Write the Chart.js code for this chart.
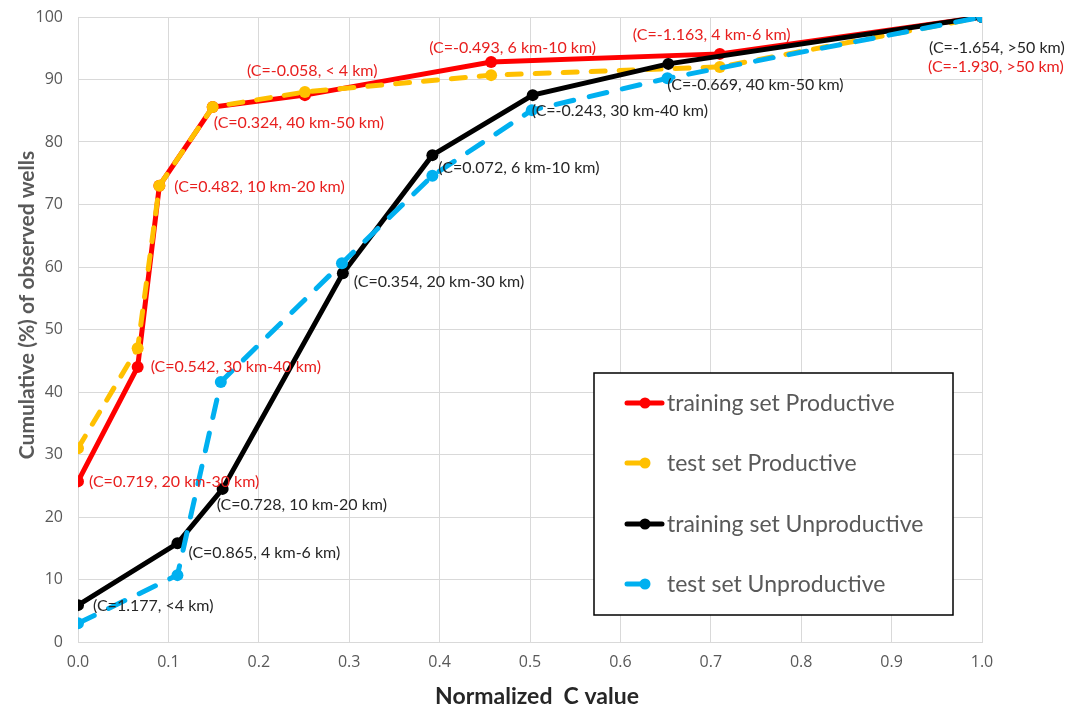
<!DOCTYPE html>
<html>
<head>
<meta charset="utf-8">
<script src="https://cdn.jsdelivr.net/npm/chart.js@4/dist/chart.umd.min.js"></script>
<style>
html,body{margin:0;padding:0;background:#fff;}
#wrap{width:1083px;height:710px;position:relative;}
</style>
</head>
<body>
<div id="wrap"><canvas id="c" width="1083" height="710"></canvas></div>
<script>
// ---- data ----
const seriesNames = ["training set Productive", "test set Productive", "training set Unproductive", "test set Unproductive"];

const trainProdX = [0, 0.066, 0.09, 0.149, 0.251, 0.457, 0.71, 1.0];
const trainProdY = [25.7, 44, 73, 85.6, 87.5, 92.8, 94.1, 100];
const trainProdLabels = ["(C=0.719, 20 km-30 km)", "(C=0.542, 30 km-40 km)", "(C=0.482, 10 km-20 km)", "(C=0.324, 40 km-50 km)", "(C=-0.058, < 4 km)", "(C=-0.493, 6 km-10 km)", "(C=-1.163, 4 km-6 km)", "(C=-1.930, >50 km)"];

const testProdX = [0, 0.066, 0.09, 0.149, 0.251, 0.457, 0.71, 1.0];
const testProdY = [31, 47, 73, 85.6, 88, 90.7, 92, 100];

const trainUnprodX = [0, 0.11, 0.16, 0.293, 0.392, 0.503, 0.653, 1.0];
const trainUnprodY = [5.9, 15.8, 24.5, 59, 77.9, 87.5, 92.5, 100];
const trainUnprodLabels = ["(C=1.177, <4 km)", "(C=0.865, 4 km-6 km)", "(C=0.728, 10 km-20 km)", "(C=0.354, 20 km-30 km)", "(C=0.072, 6 km-10 km)", "(C=-0.243, 30 km-40 km)", "(C=-0.669, 40 km-50 km)", "(C=-1.654, >50 km)"];

const testUnprodX = [0, 0.11, 0.158, 0.292, 0.392, 0.502, 0.652, 1.0];
const testUnprodY = [3, 10.7, 41.6, 60.6, 74.6, 85.1, 90.2, 100];

const xTitle = "Normalized  C value";
const yTitle = "Cumulative (%) of observed wells";

// ---- layout / style (not data) ----
const trainProdLabelOffsets = [[11,0],[13,0],[15,1],[1,16],[-58,-24],[-62,-14],[-87,-19],[-54,50]];
const trainUnprodLabelOffsets = [[15,1],[11,10],[-6,16],[11,9],[6,13],[-1,16],[-1,21],[-53,31]];

const FONT = "Lato, 'Open Sans', sans-serif";
const TICKFONT = "'Open Sans', Lato, sans-serif";
const colors = ["#ff0000", "#ffc000", "#000000", "#00b0f0"];

function pts(xs, ys){ return xs.map((x,i)=>({x:x, y:ys[i]})); }

const labelPlugin = {
  id: 'pointLabels',
  afterDatasetsDraw(chart){
    const ctx = chart.ctx;
    const xs = chart.scales.x, ys = chart.scales.y;
    ctx.save();
    ctx.font = "16px " + FONT;
    ctx.textAlign = 'left';
    ctx.textBaseline = 'middle';
    const groups = [
      [trainProdX, trainProdY, trainProdLabels, trainProdLabelOffsets, "#e8201f"],
      [trainUnprodX, trainUnprodY, trainUnprodLabels, trainUnprodLabelOffsets, "#262626"]
    ];
    groups.forEach(g=>{
      ctx.fillStyle = g[4];
      g[2].forEach((t,i)=>{
        const px = xs.getPixelForValue(g[0][i]);
        const py = ys.getPixelForValue(g[1][i]);
        ctx.fillText(t, px + g[3][i][0], py + g[3][i][1]);
      });
    });
    ctx.restore();
  }
};

const titlePlugin = {
  id: 'axisTitles',
  afterDraw(chart){
    const ctx = chart.ctx;
    ctx.save();
    ctx.textAlign = 'center';
    ctx.textBaseline = 'middle';
    ctx.font = "bold 23px " + FONT;
    ctx.fillStyle = '#262626';
    ctx.fillText(xTitle, 537, 697);
    ctx.translate(27, 305);
    ctx.rotate(-Math.PI/2);
    ctx.font = "bold 21px " + FONT;
    ctx.fillStyle = '#595959';
    ctx.fillText(yTitle, 0, 0);
    ctx.restore();
  }
};

const legendPlugin = {
  id: 'boxLegend',
  afterDraw(chart){
    const ctx = chart.ctx;
    ctx.save();
    const bx = 594, by = 373, bw = 359, bh = 242;
    ctx.fillStyle = '#fff';
    ctx.fillRect(bx, by, bw, bh);
    ctx.strokeStyle = '#000';
    ctx.lineWidth = 1.5;
    ctx.strokeRect(bx, by, bw, bh);
    const rows = [403, 463, 524, 584];
    const dashed = [false, true, false, true];
    ctx.font = "23px " + FONT;
    ctx.textBaseline = 'middle';
    ctx.textAlign = 'left';
    seriesNames.forEach((n,i)=>{
      const y = rows[i];
      ctx.strokeStyle = colors[i];
      ctx.fillStyle = colors[i];
      ctx.lineWidth = 5;
      ctx.lineCap = 'round';
      ctx.beginPath();
      ctx.moveTo(627, y);
      ctx.lineTo(dashed[i] ? 645 : 662, y);
      ctx.stroke();
      ctx.beginPath();
      ctx.arc(645, y, 5.5, 0, Math.PI*2);
      ctx.fill();
      ctx.fillStyle = '#595959';
      ctx.fillText(n, 667, y + 1);
    });
    ctx.restore();
  }
};

const ds = (label, data, color, dash, order) => ({
  label: label,
  data: data,
  borderColor: color,
  backgroundColor: color,
  borderWidth: 5,
  borderDash: dash,
  borderCapStyle: dash.length ? 'round' : 'butt',
  pointRadius: 6,
  pointHoverRadius: 6,
  pointBorderWidth: 0,
  pointBackgroundColor: color,
  tension: 0,
  order: order
});

new Chart(document.getElementById('c'), {
  type: 'line',
  data: {
    datasets: [
      ds(seriesNames[0], pts(trainProdX, trainProdY), colors[0], [], 4),
      ds(seriesNames[1], pts(testProdX, testProdY), colors[1], [14, 14], 3),
      ds(seriesNames[2], pts(trainUnprodX, trainUnprodY), colors[2], [], 2),
      ds(seriesNames[3], pts(testUnprodX, testUnprodY), colors[3], [18, 16], 1)
    ]
  },
  options: {
    responsive: false,
    animation: false,
    devicePixelRatio: 1,
    layout: { padding: { top: 17, right: 101, left: 0, bottom: 0 } },
    plugins: { legend: { display: false }, tooltip: { enabled: false } },
    scales: {
      x: {
        type: 'linear', min: 0, max: 1,
        grid: { color: '#d9d9d9', lineWidth: 1, drawTicks: false },
        border: { color: '#d9d9d9', width: 1 },
        ticks: { stepSize: 0.1, padding: 11, color: '#595959', font: { family: TICKFONT, size: 16 },
                 callback: v => Number(v).toFixed(1) },
        title: { display: false },
        afterFit: s => { s.height = 68; s.paddingLeft = 0; s.paddingRight = 0; }
      },
      y: {
        min: 0, max: 100,
        grid: { color: '#d9d9d9', lineWidth: 1, drawTicks: false },
        border: { color: '#d9d9d9', width: 1 },
        ticks: { stepSize: 10, padding: 15, color: '#595959', font: { family: TICKFONT, size: 16 } },
        title: { display: false },
        afterFit: s => { s.width = 78; s.paddingTop = 0; s.paddingBottom = 0; }
      }
    }
  },
  plugins: [labelPlugin, legendPlugin, titlePlugin]
});
</script>
</body>
</html>
